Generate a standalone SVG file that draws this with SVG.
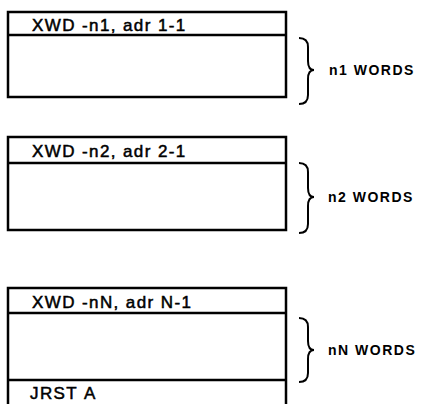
<svg xmlns="http://www.w3.org/2000/svg" width="424" height="404" viewBox="0 0 424 404">
<style>
.box{fill:none;stroke:#000;stroke-width:2.5}
.ln{stroke:#000;stroke-width:2.5}
.br{fill:none;stroke:#000;stroke-width:2}
.t{font-family:"Liberation Sans",Arial,sans-serif;font-size:17px;letter-spacing:1.4px;fill:#000;stroke:#000;stroke-width:0.5}
.w{font-family:"Liberation Sans",Arial,sans-serif;font-size:14px;font-weight:bold;letter-spacing:1.5px;fill:#000}
</style>
<rect width="424" height="404" fill="#fff"/>
<g id="block1">
<rect class="box" x="8" y="12" width="278" height="85"/>
<line class="ln" x1="8" y1="35" x2="286" y2="35"/>
<text class="t" x="32" y="31">XWD -n1, adr 1-1</text>
</g>
<g id="block2">
<rect class="box" x="8" y="137" width="278" height="93"/>
<line class="ln" x1="8" y1="163" x2="286" y2="163"/>
<text class="t" x="32" y="157">XWD -n2, adr 2-1</text>
</g>
<g id="block3">
<path class="box" d="M8,406 V288 H286 V406"/>
<line class="ln" x1="8" y1="313" x2="286" y2="313"/>
<line class="ln" x1="8" y1="380" x2="286" y2="380"/>
<text class="t" x="32" y="308">XWD -nN, adr N-1</text>
<text class="t" x="30" y="399">JRST</text>
<text class="t" x="84" y="399">A</text>
</g>
<g id="connectors">
<path class="br" d="M299,38 Q308,38 308,47 L308,61 Q308,70 314,70 Q308,70 308,79 L308,95 Q308,104 299,104"/>
<path class="br" d="M299,163 Q308,163 308,172 L308,188 Q308,197 314,197 Q308,197 308,206 L308,224 Q308,233 299,233"/>
<path class="br" d="M299,318 Q308,318 308,327 L308,341 Q308,350 314,350 Q308,350 308,359 L308,373 Q308,382 299,382"/>
</g>
<g id="labels">
<text class="w" x="329" y="75">n1 WORDS</text>
<text class="w" x="328" y="202">n2 WORDS</text>
<text class="w" x="328" y="355">nN WORDS</text>
</g>
</svg>
